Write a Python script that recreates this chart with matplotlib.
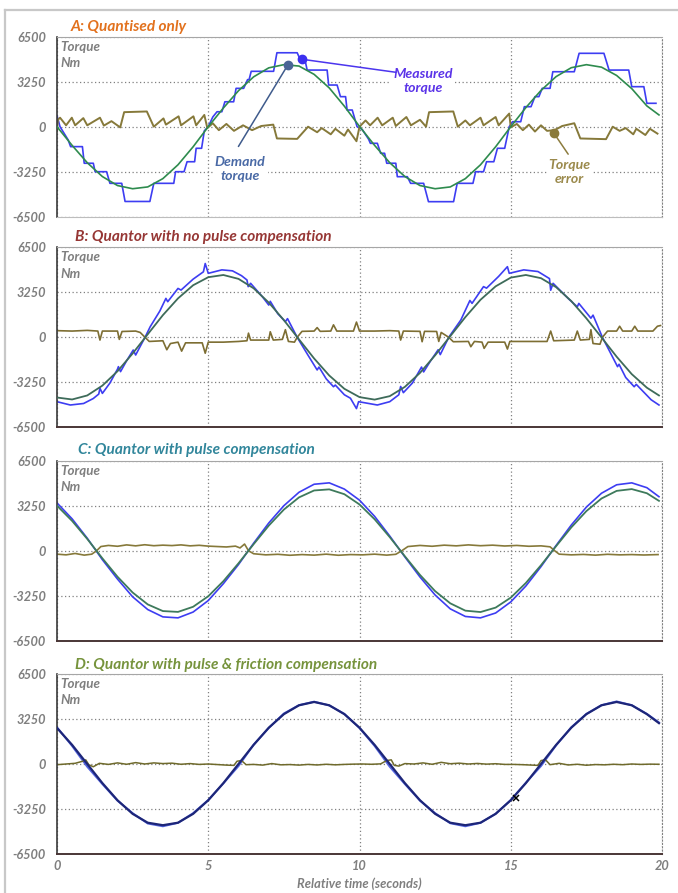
import matplotlib
matplotlib.use("Agg")
import matplotlib.pyplot as plt
from matplotlib.lines import Line2D

# ---------------------------------------------------------------
# data (time in s, torque in Nm)
# ---------------------------------------------------------------
t_grid = [0.0, 0.5, 1.0, 1.5, 2.0, 2.5, 3.0, 3.5, 4.0, 4.5,
          5.0, 5.5, 6.0, 6.5, 7.0, 7.5, 8.0, 8.5, 9.0, 9.5,
          10.0, 10.5, 11.0, 11.5, 12.0, 12.5, 13.0, 13.5, 14.0, 14.5,
          15.0, 15.5, 16.0, 16.5, 17.0, 17.5, 18.0, 18.5, 19.0, 19.5, 19.9]

# A: quantised only
demand_a = [0, -1350, -2600, -3600, -4250, -4480, -4350, -3750, -2750, -1450,
            0, 1350, 2600, 3600, 4250, 4480, 4380, 3780, 2800, 1480,
            20, -1350, -2600, -3600, -4250, -4480, -4350, -3750, -2750, -1450,
            0, 1380, 2620, 3620, 4260, 4480, 4300, 3700, 2750, 1500, 850]

meas_a_t = [0.0, 0.1, 0.37, 0.45, 0.84, 0.9, 1.2, 1.26, 1.64, 1.75, 2.14, 2.25, 3.07,
            3.2, 3.86, 3.92, 4.2, 4.3, 4.55, 4.6, 4.78, 4.87, 5.0, 5.15, 5.29, 5.45,
            5.55, 5.84, 5.92, 6.17, 6.3, 6.35, 6.42, 7.16, 7.27, 7.94, 8.05, 8.2,
            8.27, 8.93, 8.98, 9.26, 9.37, 9.54, 9.59, 9.76, 9.92, 10.09, 10.3, 10.36,
            10.59, 10.7, 10.83, 10.9, 11.2, 11.25, 11.58, 11.69, 12.12, 12.28, 13.11,
            13.23, 13.75, 13.84, 14.1, 14.2, 14.44, 14.56, 14.8, 14.95, 15.06, 15.33,
            15.45, 15.67, 15.8, 15.93, 16.04, 16.3, 16.39, 17.1, 17.26, 18.08, 18.25,
            18.9, 19.0, 19.4, 19.5, 19.8]
meas_a_v = [800, 0, -960, -1440, -1440, -2640, -2640, -3250, -3250, -4090, -4090, -5400, -5400,
            -4090, -4090, -3250, -3250, -2530, -2530, -1560, -1560, -300, 0, 700, 1080, 1080,
            1800, 1800, 2770, 2770, 3400, 3400, 4000, 4000, 5340, 5340, 4800, 4800,
            4090, 4090, 3010, 3010, 2170, 2170, 1205, 1205, 0, -200, -900, -1200,
            -1200, -1920, -1920, -2640, -2640, -3610, -3610, -4090, -4090, -5415, -5415,
            -4090, -4090, -3250, -3250, -2530, -2530, -1560, -1560, 0, 360, 360,
            1445, 1445, 2170, 2170, 2770, 2770, 3970, 3970, 5300, 5300, 4090,
            4090, 2890, 2890, 1690, 1690]

err_a_t = [0.0, 0.03, 0.1, 0.3, 0.49, 0.6, 0.87, 1.0, 1.42, 1.55, 1.8, 2.09, 2.22, 2.97,
           3.2, 3.52, 3.6, 4.02, 4.1, 4.51, 4.6, 4.87, 4.97,
           5.15, 5.35, 5.6, 5.85, 6.15, 6.45, 6.75, 7.15, 7.27, 7.94, 8.3, 8.6, 8.75,
           9.05, 9.2, 9.5, 9.62, 9.9, 10.0,
           10.2, 10.35, 10.6, 10.75, 11.1, 11.2, 11.55, 11.7, 12.0, 12.2, 12.3, 13.1,
           13.25, 13.5, 13.65, 14.0, 14.1, 14.5, 14.6, 14.95, 15.0,
           15.2, 15.4, 15.6, 15.8, 16.0, 16.2, 16.45, 16.7, 17.1, 17.3, 18.15, 18.37,
           18.6, 18.8, 19.05, 19.15, 19.45, 19.6, 19.85]
err_a_v = [-300, 500, 650, 100, 650, 100, 620, 100, 650, 80, 400, -50, 1050, 1100,
           0, 600, 150, 750, 100, 750, 100, 850, -100,
           250, -250, 200, -300, 100, -250, 50, 150, -850, -880, 0, -400, -100,
           -550, -150, -650, -200, -1050, 0,
           450, 100, 650, 100, 650, 50, 700, 100, 500, 0, 1050, 1100,
           0, 450, 100, 650, 100, 700, 100, 950, -50,
           200, -250, 150, -350, 100, -300, -250, 50, 250, -850, -900, 0,
           -300, -100, -550, -150, -600, -150, -500]

# B: quantor, no pulse compensation
demand_b = [-4350, -4490, -4200, -3490, -2450, -1170, 220, 1600, 2810, 3760,
            4340, 4500, 4220, 3540, 2510, 1240, -150, -1530, -2760, -3720,
            -4320, -4500, -4250, -3580, -2570, -1300, 80, 1460, 2710, 3680,
            4310, 4500, 4270, 3620, 2620, 1370, -10, -1400, -2660, -3640, -4200]

meas_b_t = [0.0, 0.44, 0.88, 1.2, 1.38, 1.42, 1.5, 1.75, 2.0, 2.03, 2.1, 2.3, 2.52, 2.6,
            2.91, 3.08, 3.4, 3.6, 3.66, 4.0, 4.1, 4.5, 4.84, 4.9, 5.0, 5.45, 5.8, 6.1,
            6.28, 6.32, 6.4, 6.8, 7.0, 7.05, 7.3, 7.55, 7.62, 7.94, 8.3, 8.6, 8.66, 8.9,
            9.14, 9.2, 9.5, 9.7, 9.9, 9.97, 10.59, 11.0, 11.3, 11.36, 11.45, 11.75,
            12.05, 12.12, 12.35, 12.6, 12.67, 12.95, 13.35, 13.65, 13.72, 14.1, 14.2,
            14.6, 14.89, 14.95, 15.43, 15.9, 16.28, 16.32, 16.4, 16.9, 17.2, 17.25,
            17.65, 17.72, 18.03, 18.53, 18.58, 18.8, 19.08, 19.15, 19.64, 19.9]
meas_b_v = [-4650, -4890, -4780, -4420, -4100, -3680, -4050, -3300, -2300, -2120, -2480,
            -1700, -920, -1280, 0, 760, 1900, 2810, 2570, 3530, 3410, 4200, 4730, 5330,
            4620, 4870, 4800, 4450, 4140, 3660, 3900, 2900, 2330, 2600, 1700, 1130, 1350,
            0, -1300, -2360, -2150, -3000, -3570, -3450, -4150, -4400, -5150, -4650,
            -4890, -4650, -4150, -3550, -4000, -3300, -2150, -2500, -1700, -900, -1250,
            0, 1250, 2660, 2450, 3660, 3550, 4400, 5100, 4620, 4870, 4750, 4240, 3400,
            3900, 2800, 2200, 2450, 1380, 1600, 0, -2120, -1950, -2900, -3570, -3400,
            -4510, -4890]

err_b_t = [0.0, 0.5, 1.0, 1.35, 1.42, 1.5, 2.0, 2.06, 2.15, 2.6, 2.75, 2.91, 3.05, 3.5,
           3.63, 3.75, 4.0, 4.12, 4.25, 4.8, 4.9, 5.0, 5.5, 6.0, 6.28, 6.33, 6.4, 7.0,
           7.05, 7.15, 7.45, 7.55, 7.65, 7.85, 7.94, 8.1, 8.5, 8.6, 8.7, 9.05, 9.14,
           9.25, 9.8, 9.9, 10.0, 10.5, 11.0, 11.3, 11.36, 11.45, 12.0, 12.07, 12.15,
           12.55, 12.62, 12.7, 12.95, 13.1, 13.6, 13.68, 13.8, 14.05, 14.12, 14.25,
           14.8, 14.89, 14.97, 15.5, 16.2, 16.32, 16.42, 17.1, 17.2, 17.3, 17.6, 17.65,
           17.72, 17.95, 18.03, 18.2, 18.5, 18.6, 18.7, 19.0, 19.1, 19.2, 19.7, 19.85, 19.95]
err_b_v = [480, 450, 500, 450, -200, 450, 450, -150, 420, 450, 350, 0, -300, -250,
           -900, -450, -350, -1000, -400, -400, -1150, -350, -350, -300, -250, 300, -200,
           -200, 400, -200, -150, 550, -300, -350, 0, 430, 450, 700, 430, 450, 900,
           450, 450, 1100, 450, 450, 480, 450, -200, 450, 430, -320, 430,
           420, -300, 350, 0, -320, -300, -680, -300, -350, -800, -350,
           -350, -850, -300, -300, -300, 450, -250, -200, 450, -200, -150, 550,
           -450, -500, 0, 450, 450, 800, 450, 450, 800, 450, 450, 800, 850]

# C: quantor with pulse compensation
demand_c = [3250, 2150, 850, -550, -1880, -3020, -3880, -4360, -4420, -4050,
            -3290, -2200, -910, 470, 1810, 2970, 3850, 4350, 4430, 4080,
            3340, 2270, 980, -400, -1750, -2920, -3800, -4330, -4430, -4110,
            -3390, -2330, -1050, 330, 1680, 2860, 3770, 4320, 4450, 4150, 3600]
meas_c = [3450, 2300, 900, -650, -2050, -3330, -4250, -4780, -4850, -4430,
          -3600, -2380, -1000, 540, 2000, 3250, 4220, 4800, 4900, 4450,
          3650, 2480, 1060, -450, -1900, -3200, -4200, -4750, -4850, -4500,
          -3700, -2550, -1150, 380, 1850, 3150, 4150, 4760, 4900, 4550, 3900]

err_c_t = [0.0, 0.3, 0.6, 0.9, 1.15, 1.31, 1.45, 1.7, 2.0, 2.3, 2.6, 2.9, 3.2, 3.5, 3.8,
           4.1, 4.4, 4.7, 5.0, 5.3, 5.6, 5.9, 6.05, 6.2, 6.33, 6.5, 6.9, 7.3, 7.7, 8.1,
           8.5, 8.9, 9.3, 9.7, 10.1, 10.5, 10.9, 11.2, 11.4, 11.6, 12.0, 12.4, 12.8,
           13.2, 13.6, 14.0, 14.4, 14.8, 15.2, 15.6, 16.0, 16.3, 16.45, 16.6, 17.0,
           17.4, 17.8, 18.2, 18.6, 19.0, 19.4, 19.87]
err_c_v = [-250, -300, -200, -320, -250, 0, 300, 380, 320, 420, 350, 430, 360, 400, 370,
           420, 350, 390, 330, 300, 270, 330, 200, 480, 0, -220, -300, -260, -330, -280,
           -320, -250, -330, -280, -300, -250, -320, -260, 0, 300, 380, 320, 400,
           350, 420, 360, 400, 340, 380, 320, 350, 280, 0, -250, -300,
           -270, -320, -260, -300, -280, -310, -280]

# D: quantor with pulse & friction compensation
demand_d = [2600, 1380, 0, -1380, -2620, -3600, -4240, -4420, -4240, -3600,
            -2620, -1380, 0, 1380, 2620, 3600, 4240, 4480, 4240, 3600,
            2620, 1380, 0, -1380, -2620, -3600, -4240, -4420, -4240, -3600,
            -2620, -1380, 0, 1380, 2620, 3600, 4240, 4480, 4240, 3600, 2950]
meas_d = [2650, 1300, -200, -1450, -2650, -3550, -4300, -4500, -4250, -3550,
          -2600, -1400, -150, 1400, 2600, 3650, 4250, 4500, 4230, 3620,
          2600, 1300, -200, -1450, -2650, -3550, -4280, -4500, -4250, -3600,
          -2600, -1350, -150, 1350, 2650, 3620, 4250, 4520, 4250, 3620, 3000]

err_d_t = [0.0, 0.3, 0.6, 0.85, 0.95, 1.05, 1.2, 1.4, 1.7, 2.0, 2.3, 2.6, 2.9, 3.2, 3.5,
           3.8, 4.1, 4.4, 4.7, 5.0, 5.3, 5.6, 5.85, 5.95, 6.1, 6.25, 6.5, 6.8, 7.1, 7.4,
           7.7, 8.0, 8.3, 8.6, 8.9, 9.2, 9.5, 9.8, 10.1, 10.4, 10.7, 10.9, 11.05, 11.15,
           11.3, 11.5, 11.8, 12.1, 12.4, 12.7, 13.0, 13.3, 13.6, 13.9, 14.2, 14.5, 14.8,
           15.1, 15.4, 15.7, 15.9, 16.0, 16.15, 16.3, 16.6, 16.9, 17.2, 17.5, 17.8,
           18.1, 18.4, 18.7, 19.0, 19.3, 19.6, 19.9]
err_d_v = [-50, 0, 50, 200, 300, -50, -200, 50, -30, 80, -20, 100, 0, 80, 30,
           60, -20, 30, -30, 0, -40, -80, -100, 200, 250, -50, -30, -80, 30, -60,
           -40, -80, -30, -70, -20, -60, -30, -10, 0, -20, 10, 250, 300, -100,
           -150, 30, 0, 80, -20, 120, 20, 60, 0, 40, -10, 20, -30,
           -30, -50, -80, -100, 250, 300, -50, 50, -70, -20, -90, -40,
           -60, -20, -50, 0, -30, -10, -20]

titles = ["A: Quantised only",
          "B: Quantor with no pulse compensation",
          "C: Quantor with pulse compensation",
          "D: Quantor with pulse & friction compensation"]
title_colors = ["#e2711d", "#963634", "#31869b", "#76933c"]

yticks = [-6500, -3250, 0, 3250, 6500]
xticks = [0, 5, 10, 15, 20]

# ---------------------------------------------------------------
W, H = 678, 893
FONT = "Lato"
GREY = "#7f7f7f"

fig = plt.figure(figsize=(W / 100, H / 100), dpi=100)

# panel boxes in pixels: (top, bottom) - all share left/right
panel_px = [(36.7, 216.7), (247.3, 427.3), (460.7, 640.7), (674, 854)]
title_px = [(71, 26.5), (75, 236.5), (78, 450), (75, 665)]
LEFT, RIGHT = 57, 662


def style_axes(ax, idx):
    ax.set_xlim(0, 20)
    ax.set_ylim(-6500, 6500)
    ax.set_yticks(yticks)
    ax.set_yticklabels([str(v) for v in yticks], fontfamily=FONT, fontstyle="italic",
                       fontweight="bold", fontsize=9.2, color=GREY)
    ax.set_xticks(xticks)
    ax.tick_params(length=0, pad=8)
    if idx < 3:
        ax.set_xticklabels([])
    else:
        ax.set_xticklabels([str(v) for v in xticks], fontfamily=FONT, fontstyle="italic",
                           fontweight="bold", fontsize=9.2, color=GREY)
        ax.tick_params(axis="x", pad=4)
    ax.set_axisbelow(True)
    ax.grid(True, color="#808080", linestyle=(0, (1, 2)), linewidth=0.9)
    ax.spines["top"].set_color("#a6a6a6")
    ax.spines["right"].set_color("#808080")
    ax.spines["right"].set_linestyle((0, (1, 2)))
    ax.spines["left"].set_color("#3a3a3a")
    ax.spines["left"].set_linewidth(1.2)
    if idx == 0:
        ax.spines["bottom"].set_color("#bdbdbd")
    else:
        ax.spines["bottom"].set_color("#4a3636")
        ax.spines["bottom"].set_linewidth(1.4)
    ax.text(0.006, 0.945, "Torque", transform=ax.transAxes, ha="left", va="center",
            fontfamily=FONT, fontstyle="italic", fontweight="bold", fontsize=9.6, color=GREY)
    ax.text(0.006, 0.853, "Nm", transform=ax.transAxes, ha="left", va="center",
            fontfamily=FONT, fontstyle="italic", fontweight="bold", fontsize=9.6, color=GREY)


axes = []
for i, (top, bot) in enumerate(panel_px):
    ax = fig.add_axes([LEFT / W, 1 - bot / H, (RIGHT - LEFT) / W, (bot - top) / H])
    style_axes(ax, i)
    axes.append(ax)
    tx, ty = title_px[i]
    fig.text(tx / W, 1 - ty / H, titles[i], ha="left", va="center", fontfamily=FONT,
             fontstyle="italic", fontweight="bold", fontsize=11.1, color=title_colors[i])

# A
ax = axes[0]
ax.plot(t_grid, demand_a, color="#2e8b4e", lw=1.2, zorder=3)
ax.plot(meas_a_t, meas_a_v, color="#3d3df2", lw=1.2, zorder=2)
ax.plot(err_a_t, err_a_v, color="#86793a", lw=1.4, zorder=2)

# callouts on panel A
lbl = dict(fontfamily=FONT, fontstyle="italic", fontweight="bold", fontsize=10.2,
           ha="center", va="center", linespacing=1.2, zorder=1.6,
           bbox=dict(facecolor="white", edgecolor="none", pad=1.5))
ax.annotate("", xy=(8.1, 4870), xytext=(11.3, 3900),
            arrowprops=dict(arrowstyle="-", color="#4b35ee", lw=1.1), zorder=4)
ax.plot([8.1], [4870], "o", color="#3b2ff0", ms=6, zorder=5)
ax.text(12.1, 3300, "Measured\ntorque", color="#5b34e8", **lbl)
ax.annotate("", xy=(7.63, 4455), xytext=(5.95, -1600),
            arrowprops=dict(arrowstyle="-", color="#3f5b8c", lw=1.1), zorder=4)
ax.plot([7.63], [4455], "o", color="#4a6596", ms=6, zorder=5)
ax.text(6.05, -3050, "Demand\ntorque", color="#4a6aa6", **lbl)
ax.annotate("", xy=(16.43, -480), xytext=(16.95, -2150),
            arrowprops=dict(arrowstyle="-", color="#8c7c3e", lw=1.1), zorder=4)
ax.plot([16.43], [-480], "o", color="#8a7a3a", ms=6, zorder=5)
ax.text(16.95, -3250, "Torque\nerror", color="#9b8a4c", **lbl)

# B
ax = axes[1]
ax.plot(t_grid, demand_b, color="#3e6b5a", lw=1.3, zorder=3)
ax.plot(meas_b_t, meas_b_v, color="#3d3df2", lw=1.2, zorder=2)
ax.plot(err_b_t, err_b_v, color="#7d6e33", lw=1.2, zorder=2)

# C
ax = axes[2]
ax.plot(t_grid, demand_c, color="#3e7a5c", lw=1.3, zorder=3)
ax.plot(t_grid, meas_c, color="#3d3df2", lw=1.2, zorder=2)
ax.plot(err_c_t, err_c_v, color="#86793a", lw=1.2, zorder=2)

# D
ax = axes[3]
ax.plot(t_grid, meas_d, color="#5566e0", lw=1.4, zorder=2)
ax.plot(t_grid, demand_d, color="#1d2678", lw=1.6, zorder=3)
ax.plot(err_d_t, err_d_v, color="#6f6a2c", lw=1.1, zorder=2)
ax.plot([15.17], [-2460], "x", color="black", ms=5, mew=1.1, zorder=4)
ax.set_xlabel("Relative time (seconds)", fontfamily=FONT, fontstyle="italic",
              fontweight="bold", fontsize=9.3, color=GREY, labelpad=4)

# light frame of the original screenshot
fig.add_artist(Line2D([5 / W, 1], [1 - 10 / H, 1 - 10 / H], color="#c8c8c8", lw=1.6))
fig.add_artist(Line2D([5 / W, 5 / W], [0, 1 - 10 / H], color="#c8c8c8", lw=1.6))

fig.savefig("out.png", dpi=100)
